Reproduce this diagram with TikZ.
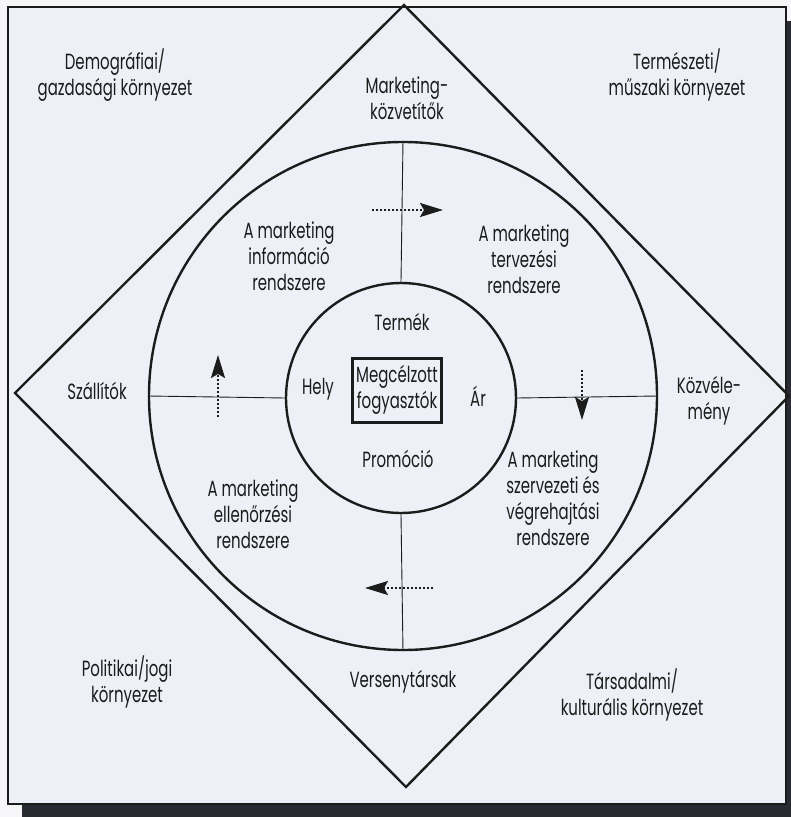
\documentclass[tikz,border=0pt]{standalone}
\usepackage{fontspec}
\setmainfont{Poppins}[FakeStretch=0.68]
\usetikzlibrary{arrows.meta, positioning}

\definecolor{pagebg}{HTML}{F6F6F9}
\definecolor{panelbg}{HTML}{EEF0F7}
\definecolor{shadowc}{HTML}{2A2A33}
\definecolor{inkc}{HTML}{1C1C1C}

\begin{document}
\begin{tikzpicture}[
    x=1pt, y=1pt,
    % Outlines of the rings and the diamond
    ring/.style={draw=inkc, line width=2.4pt},
    spoke/.style={draw=inkc, line width=0.9pt},
    % Text helpers
    txt/.style={font=\fontsize{22}{26}\selectfont, text=inkc, align=center, inner sep=0pt},
    target/.style={txt, draw=inkc, line width=3pt, inner sep=2pt, minimum width=89pt, minimum height=64pt, fill=panelbg},
    % Dotted flow arrows between the four systems
    flow/.style={draw=inkc, line width=1.9pt, dash pattern=on 1.6pt off 2.4pt,
        -{Stealth[length=23pt, width=14pt, inset=4pt]}}
]

    % ==========================================
    % 1. PAGE, SHADOW AND PANEL
    % ==========================================
    \useasboundingbox (-403,-421) rectangle (388,396);
    \fill[pagebg] (-403,-421) rectangle (388,396);
    \fill[shadowc] (-381,375) rectangle (400,-430);
    \filldraw[fill=panelbg, draw=inkc, line width=1.6pt] (-395,389) rectangle (383,-408);

    % ==========================================
    % 2. DIAMOND AND RINGS
    % ==========================================
    \draw[ring, line join=miter] (1,391) -- (386,0) -- (3,-391) -- (-388,3) -- cycle;

    \node[ring, circle, minimum size=508pt, inner sep=0pt] (outer) at (0,0) {};
    \node[ring, circle, minimum size=230pt, inner sep=0pt] (inner) at (-2,-2) {};

    \draw[spoke] (inner.north) -- (outer.north);
    \draw[spoke] (inner.south) -- (outer.south);
    \draw[spoke] (inner.west) -- (outer.west);
    \draw[spoke] (inner.east) -- (outer.east);

    % Target market in the middle
    \node[target] (core) at (-6,6) {Megcélzott\\fogyasztók};

    % ==========================================
    % 3. LABELS
    % ==========================================
    % Marketing mix (inner ring)
    \node[txt] (product) at (-1,74) {Termék};
    \node[txt] (place) at (-85,7) {Hely};
    \node[txt] (price) at (75,0) {Ár};
    \node[txt] (promo) at (-5,-63) {Promóció};

    % Marketing systems (outer ring)
    \node[txt] (info) at (-114,140) {A marketing\\információ\\rendszere};
    \node[txt] (plan) at (121,137) {A marketing\\tervezési\\rendszere};
    \node[txt] (ctrl) at (-150,-118) {A marketing\\ellenőrzési\\rendszere};
    \node[txt] (impl) at (150,-102) {A marketing\\szervezeti és\\végrehajtási\\rendszere};

    % Micro environment (diamond)
    \node[txt] (interm) at (4,298) {Marketing-\\közvetítők};
    \node[txt] (suppl) at (-306,5) {Szállítók};
    \node[txt] (public) at (306,-5) {Közvéle-\\mény};
    \node[txt] (compet) at (0,-286) {Versenytársak};

    % Macro environment (corners)
    \node[txt] (demo) at (-288,321) {Demográfiai/\\gazdasági környezet};
    \node[txt] (nat) at (274,321) {Természeti/\\műszaki környezet};
    \node[txt] (pol) at (-276,-286) {Politikai/jogi\\környezet};
    \node[txt] (soc) at (229,-299) {Társadalmi/\\kulturális környezet};

    % ==========================================
    % 4. FLOW ARROWS
    % ==========================================
    \coordinate (fl_top_s) at (-31,186);
    \coordinate (fl_top_e) at (40,186);
    \coordinate (fl_rgt_s) at (179,26);
    \coordinate (fl_rgt_e) at (179,-24);
    \coordinate (fl_bot_s) at (30,-192);
    \coordinate (fl_bot_e) at (-38,-192);
    \coordinate (fl_lft_s) at (-185,-21);
    \coordinate (fl_lft_e) at (-185,41);

    \draw[flow] (fl_top_s) -- (fl_top_e);
    \draw[flow] (fl_rgt_s) -- (fl_rgt_e);
    \draw[flow] (fl_bot_s) -- (fl_bot_e);
    \draw[flow] (fl_lft_s) -- (fl_lft_e);

\end{tikzpicture}
\end{document}
